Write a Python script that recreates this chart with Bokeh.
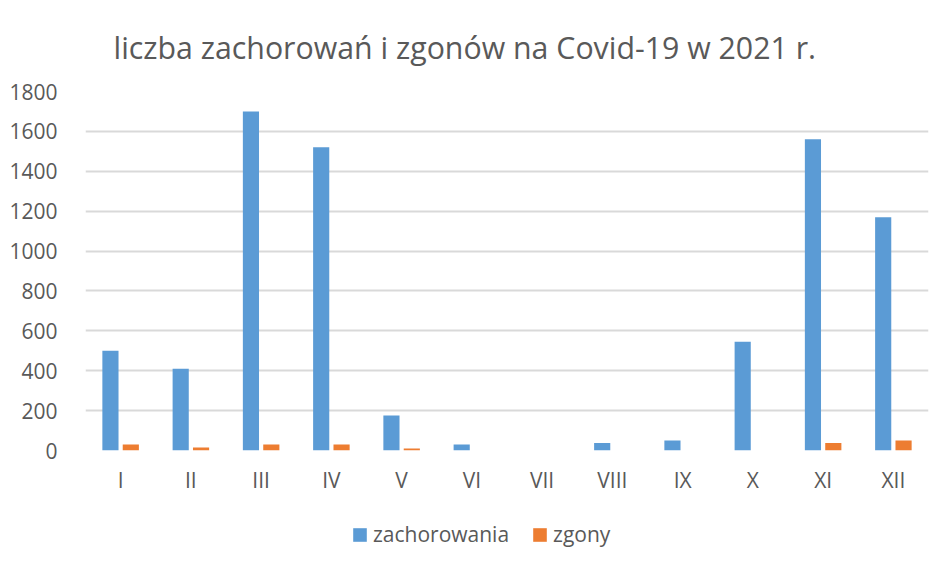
from bokeh.plotting import figure
from bokeh.layouts import column
from bokeh.models import ColumnDataSource, FactorRange, Range1d, Legend, LegendItem, Title
from bokeh.transform import dodge
from bokeh.embed import file_html
from bokeh.resources import INLINE

months = ["I", "II", "III", "IV", "V", "VI", "VII", "VIII", "IX", "X", "XI", "XII"]
zachorowania = [500, 410, 1700, 1520, 175, 30, 0, 38, 50, 545, 1560, 1170]
zgony = [30, 15, 30, 30, 10, 0, 0, 0, 0, 0, 38, 50]
y_ticks = [0, 200, 400, 600, 800, 1000, 1200, 1400, 1600, 1800]
series = ["zachorowania", "zgony"]
colors = ["#5B9BD5", "#ED7D31"]

FONT = "Open Sans"
GREY = "#595959"

src = ColumnDataSource(dict(months=months, zachorowania=zachorowania, zgony=zgony))

p = figure(width=936, height=505, x_range=FactorRange(*months, range_padding=0),
           y_range=Range1d(0, 1800), output_backend="svg", toolbar_location=None,
           min_border_left=85, min_border_right=8, min_border_top=91, min_border_bottom=55)
p.title = None
p.add_layout(Title(text="liczba zachorowań i zgonów na Covid-19 w 2021 r.", align="left",
                   offset=28, text_font=FONT, text_font_size="30.3px", text_font_style="normal",
                   text_color=GREY, standoff=48), "above")

p.vbar(x=dodge("months", -0.145, range=p.x_range), top=series[0], width=0.23,
       source=src, fill_color=colors[0], line_color=None)
p.vbar(x=dodge("months", 0.145, range=p.x_range), top=series[1], width=0.23,
       source=src, fill_color=colors[1], line_color=None)

p.yaxis.ticker = y_ticks
p.ygrid.grid_line_color = "#D9D9D9"
p.ygrid.grid_line_width = 2
p.xgrid.grid_line_color = None
p.outline_line_color = None

for ax in (p.xaxis, p.yaxis):
    ax.axis_line_color = None
    ax.major_tick_line_color = None
    ax.minor_tick_line_color = None
    ax.major_label_text_font = FONT
    ax.major_label_text_font_size = "21px"
    ax.major_label_text_color = GREY
p.yaxis.major_label_standoff = 22
p.xaxis.major_label_standoff = 9

# legend strip below the chart (frame aligned with the chart's frame)
lg = figure(width=936, height=50, x_range=p.x_range, y_range=Range1d(0, 1),
            output_backend="svg", toolbar_location=None,
            min_border_left=85, min_border_right=8, min_border_top=0, min_border_bottom=0)
lg.axis.visible = False
lg.grid.visible = False
lg.outline_line_color = None
lr1 = lg.vbar(x=dodge("months", -0.145, range=lg.x_range), top=series[0], width=0.23,
              source=src, fill_color=colors[0], line_color=None, visible=False)
lr2 = lg.vbar(x=dodge("months", 0.145, range=lg.x_range), top=series[1], width=0.23,
              source=src, fill_color=colors[1], line_color=None, visible=False)
legend = Legend(items=[LegendItem(label=series[0], renderers=[lr1]),
                       LegendItem(label=series[1], renderers=[lr2])],
                orientation="horizontal", location=(266, 7),
                label_text_font=FONT, label_text_font_size="21px", label_text_color=GREY,
                glyph_width=17, glyph_height=17, spacing=22, label_standoff=5,
                border_line_color=None, background_fill_alpha=0, margin=0, padding=0,
                inactive_fill_alpha=0)
lg.add_layout(legend, "center")

layout = column(p, lg, spacing=0)
open("out.html", "w").write(file_html(layout, INLINE))
